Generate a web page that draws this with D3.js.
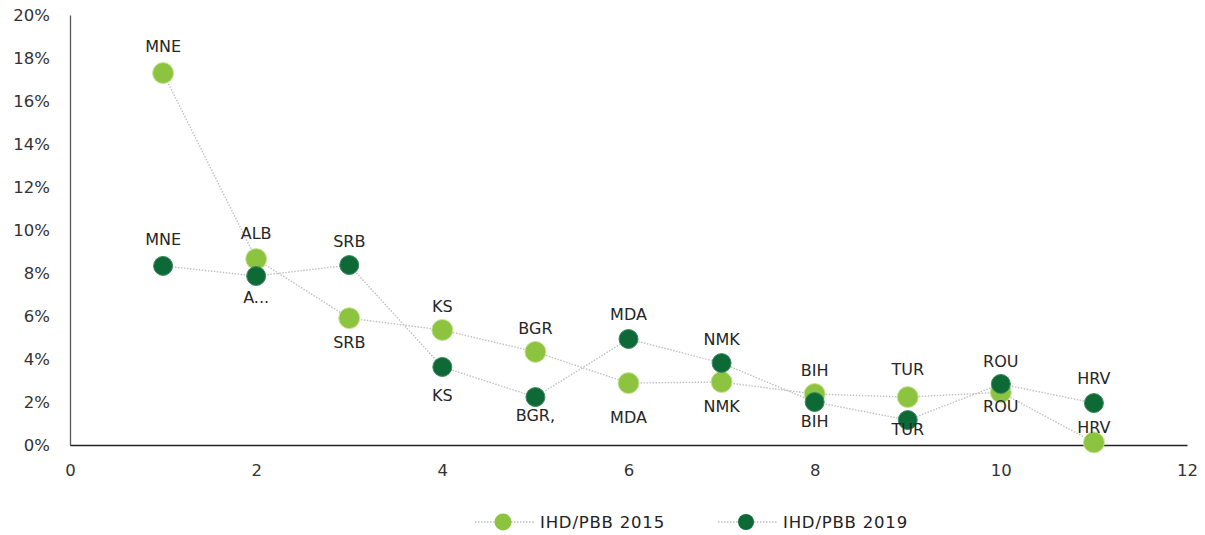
<!DOCTYPE html>
<html>
<head>
<meta charset="utf-8">
<script src="https://cdn.jsdelivr.net/npm/d3@7"></script>
<style>
  body { margin: 0; background: #fff; }
  svg { display: block; }
</style>
</head>
<body>
<div class="chart"></div>
<script>
// Chart data
const ranks = [1, 2, 3, 4, 5, 6, 7, 8, 9, 10, 11];
const values2015 = [17.3, 8.65, 5.9, 5.35, 4.33, 2.88, 2.93, 2.37, 2.23, 2.45, 0.12];
const values2019 = [8.33, 7.86, 8.37, 3.63, 2.23, 4.93, 3.81, 2.0, 1.16, 2.84, 1.95];
const labels2015 = ["MNE", "ALB", "SRB", "KS", "BGR", "MDA", "NMK", "BIH", "TUR", "ROU", "HRV"];
const labels2019 = ["MNE", "A...", "SRB", "KS", "BGR,", "MDA", "NMK", "BIH", "TUR", "ROU", "HRV"];
const seriesNames = ["IHD/PBB 2015", "IHD/PBB 2019"];
const xTicks = [0, 2, 4, 6, 8, 10, 12];
const yTicks = [0, 2, 4, 6, 8, 10, 12, 14, 16, 18, 20];

// label nudges (px from dot centre to label centre)
const nudge2015 = [-27, -26, 24, -24, -24, 34, 24, -24, -28, 14, -15];
const nudge2019 = [-27, 21, -24, 28, 18, -25, -24, 19, 9, -23, -25];

const width = 1205;
const height = 535;
const margin = { top: 15, right: 18, bottom: 90, left: 70 };

const lightGreen = "#8cc43f";
const darkGreen = "#0d6a37";
const font = "'DejaVu Sans', Verdana, sans-serif";

const svg = d3.select(".chart")
  .append("svg")
  .attr("width", width)
  .attr("height", height);

const x = d3.scaleLinear().domain([0, 12]).range([margin.left, width - margin.right]);
const y = d3.scaleLinear().domain([0, 20]).range([height - margin.bottom, margin.top]);

// Axes
const yAxis = svg.append("g")
  .attr("transform", `translate(${margin.left},0)`)
  .call(d3.axisLeft(y).tickValues(yTicks).tickSize(0).tickPadding(20).tickFormat(d => d + "%"));
yAxis.select(".domain").attr("stroke", "#595959").attr("stroke-width", 1.3);
yAxis.selectAll("text")
  .style("font-family", font)
  .style("font-size", "16.5px")
  .attr("fill", "#333");

const xAxis = svg.append("g")
  .attr("transform", `translate(0,${y(0)})`)
  .call(d3.axisBottom(x).tickValues(xTicks).tickSize(0).tickPadding(19));
xAxis.select(".domain").attr("stroke", "#222").attr("stroke-width", 1.3);
xAxis.selectAll("text")
  .style("font-family", font)
  .style("font-size", "16.5px")
  .attr("fill", "#333");

const line = d3.line()
  .x(d => x(d[0]))
  .y(d => y(d[1]));

const series = [
  { values: values2015, labels: labels2015, nudge: nudge2015, color: lightGreen, r: 10.5, edge: "#c9e39a" },
  { values: values2019, labels: labels2019, nudge: nudge2019, color: darkGreen, r: 9.5, edge: "#3f8a5e" }
];

// Lines first so dots sit on top
series.forEach(s => {
  svg.append("path")
    .datum(ranks.map((r, i) => [r, s.values[i]]))
    .attr("d", line)
    .attr("fill", "none")
    .attr("stroke", "#c0c0c0")
    .attr("stroke-width", 1.4)
    .attr("stroke-dasharray", "1.5,1.5");
});

series.forEach(s => {
  svg.append("g")
    .selectAll("circle")
    .data(ranks)
    .join("circle")
    .attr("cx", d => x(d))
    .attr("cy", (d, i) => y(s.values[i]))
    .attr("r", s.r)
    .attr("fill", s.color)
    .attr("stroke", s.edge)
    .attr("stroke-width", 1);
});

series.forEach(s => {
  svg.append("g")
    .selectAll("text")
    .data(ranks)
    .join("text")
    .attr("x", d => x(d))
    .attr("y", (d, i) => y(s.values[i]) + s.nudge[i])
    .attr("dy", "0.36em")
    .attr("text-anchor", "middle")
    .style("font-family", font)
    .style("font-size", "16px")
    .attr("fill", "#262626")
    .text((d, i) => s.labels[i]);
});

// Legend
const legend = svg.append("g").attr("transform", `translate(0, 522)`);
const legendX = [475, 718];
seriesNames.forEach((name, i) => {
  const g = legend.append("g").attr("transform", `translate(${legendX[i]},0)`);
  g.append("line")
    .attr("x1", 0).attr("x2", 60)
    .attr("stroke", "#c0c0c0")
    .attr("stroke-width", 1.4)
    .attr("stroke-dasharray", "1.5,1.5");
  g.append("circle")
    .attr("cx", 28)
    .attr("r", i === 0 ? 8.5 : 8)
    .attr("fill", series[i].color);
  g.append("text")
    .attr("x", 65)
    .attr("dy", "0.36em")
    .style("font-family", font)
    .style("font-size", "16.5px")
    .style("letter-spacing", "0.8px")
    .attr("fill", "#222")
    .text(name);
});
</script>
</body>
</html>
